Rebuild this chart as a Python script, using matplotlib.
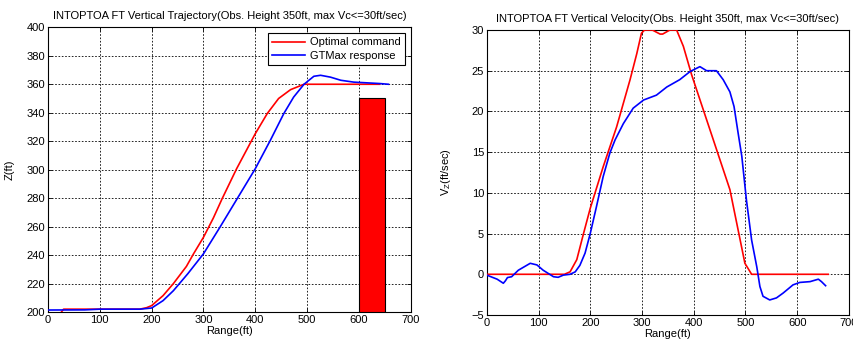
import matplotlib
matplotlib.use("Agg")
import matplotlib.pyplot as plt

plt.rcParams['font.family'] = ['Liberation Sans', 'DejaVu Sans']
plt.rcParams['mathtext.fontset'] = 'custom'
plt.rcParams['mathtext.rm'] = 'Liberation Sans'
plt.rcParams['mathtext.it'] = 'Liberation Sans'

# ---- Left: vertical trajectory ----
traj_cmd_x = [26, 30, 100, 177, 190, 200, 222, 242, 267, 281, 300, 319, 336, 364, 400, 423, 445, 468, 494, 520, 640]
traj_cmd_z = [200, 202, 202, 202, 203, 204.5, 211.5, 220, 232, 241, 252.5, 266, 279.6, 300.7, 325.3, 339.4, 350, 356.2, 360, 360, 360]
traj_rsp_x = [0, 71, 100, 177, 200, 222, 242, 270, 300, 332, 365, 400, 429, 455, 474, 494, 513, 526, 545, 565, 590, 615, 640, 657]
traj_rsp_z = [201.4, 201.5, 202, 202, 202.8, 208, 215, 227, 240.9, 259.7, 279.6, 300.7, 320.6, 339.4, 351, 360, 365.6, 366.3, 365, 362.8, 361.5, 361, 360.5, 360]
obs_x = [600]
obs_w = [50]
obs_h = [350]
obs_base = 200

# ---- Right: vertical velocity ----
vel_cmd_x = [0, 150, 161, 174, 187, 200, 225, 251, 277, 290, 299, 305, 320, 335, 340, 354, 367, 380, 396, 438, 470, 499, 512, 520, 660]
vel_cmd_v = [0, 0, 0.3, 1.8, 5, 8.1, 13.2, 18.1, 23.9, 27.1, 29.6, 30, 30, 29.5, 29.5, 30, 30, 28, 24.5, 16.5, 10.4, 1.35, 0, 0, 0]
vel_rsp_x = [0, 20, 32, 36, 40, 48, 61, 84, 97, 109, 129, 138, 148, 161, 171, 180, 190, 200, 212, 225, 238, 248, 264,
             283, 303, 328, 348, 373, 393, 412, 425, 444, 457, 470, 478, 486, 493, 502, 512, 522, 528, 534, 547, 560,
             573, 592, 605, 625, 641, 647, 655]
vel_rsp_v = [-0.1, -0.6, -1.1, -0.8, -0.4, -0.3, 0.5, 1.35, 1.15, 0.5, -0.3, -0.37, -0.1, 0, 0.3, 1.1, 2.6, 5, 8.3,
             12, 14.9, 16.5, 18.5, 20.4, 21.4, 22, 23, 23.9, 24.9, 25.5, 25, 25, 23.9, 22.4, 20.6, 17.3, 14.5, 9.1,
             4.2, 0.9, -1.5, -2.7, -3.15, -2.9, -2.3, -1.3, -1.0, -0.9, -0.6, -0.9, -1.4]

fig = plt.figure(figsize=(8.54, 3.48), dpi=100)
ax1 = fig.add_axes([0.0562, 0.1034, 0.481 - 0.0562, 0.9215 - 0.1034])
ax2 = fig.add_axes([0.570, 0.0948, 0.994 - 0.570, 0.9138 - 0.0948])

FS = 8

def style(ax):
    ax.grid(True, color='black', linestyle=(0, (2, 2)), linewidth=0.6)
    ax.set_axisbelow(True)
    ax.tick_params(direction='in', length=3, width=0.6, labelsize=FS, top=True, right=True, pad=2)
    for s in ax.spines.values():
        s.set_linewidth(0.8)

ax1.bar(obs_x, [h - obs_base for h in obs_h], width=obs_w, bottom=obs_base, align='edge',
        color='#ff0000', edgecolor='black', linewidth=0.8, zorder=3)
ax1.plot(traj_cmd_x, traj_cmd_z, color='#ff0000', lw=1.2, label='Optimal command', zorder=4)
ax1.plot(traj_rsp_x, traj_rsp_z, color='#0000ff', lw=1.2, label='GTMax response', zorder=4)
ax1.set_xlim(0, 700)
ax1.set_ylim(200, 400)
ax1.set_xticks(range(0, 701, 100))
ax1.set_yticks(range(200, 401, 20))
style(ax1)
ax1.set_title('INTOPTOA FT Vertical Trajectory(Obs. Height 350ft, max Vc<=30ft/sec)', fontsize=FS, pad=6)
ax1.set_xlabel('Range(ft)', fontsize=FS, labelpad=1)
ax1.set_ylabel('Z(ft)', fontsize=FS)
ax1.yaxis.set_label_coords(-0.092, 0.5)
leg = ax1.legend(loc='upper right', bbox_to_anchor=(0.984, 0.98), fontsize=FS, fancybox=False,
                 edgecolor='black', framealpha=1, borderpad=0.4, handlelength=3.0, labelspacing=0.3,
                 handletextpad=0.4, borderaxespad=0)
leg.get_frame().set_linewidth(0.8)

ax2.plot(vel_cmd_x, vel_cmd_v, color='#ff0000', lw=1.2, zorder=4)
ax2.plot(vel_rsp_x, vel_rsp_v, color='#0000ff', lw=1.2, zorder=4)
ax2.set_xlim(0, 700)
ax2.set_ylim(-5, 30)
ax2.set_xticks(range(0, 701, 100))
ax2.set_yticks(range(-5, 31, 5))
style(ax2)
ax2.set_title('INTOPTOA FT Vertical Velocity(Obs. Height 350ft, max Vc<=30ft/sec)', fontsize=FS, pad=6)
ax2.set_xlabel('Range(ft)', fontsize=FS, labelpad=1)
ax2.set_ylabel(r'V$_Z$(ft/sec)', fontsize=FS)
ax2.yaxis.set_label_coords(-0.093, 0.5)

fig.savefig('out.png', dpi=100)
